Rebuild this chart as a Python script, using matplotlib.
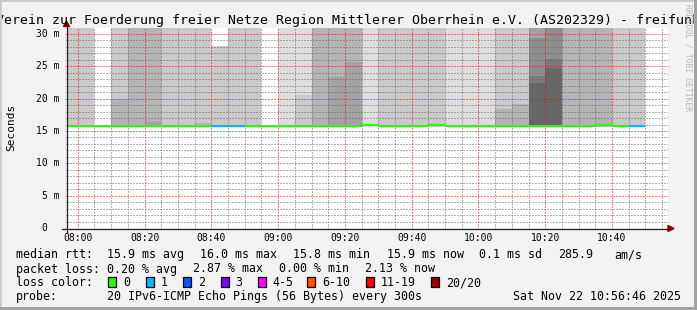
import matplotlib
matplotlib.use('Agg')
import matplotlib.pyplot as plt
from matplotlib.patches import Polygon, Rectangle
from matplotlib.lines import Line2D
from matplotlib.ticker import MultipleLocator, FuncFormatter
from matplotlib.transforms import offset_copy

plt.rcParams['font.family'] = ['DejaVu Sans Mono', 'DejaVu Sans']

# --- data ---
title = 'Verein zur Foerderung freier Netze Region Mittlerer Oberrhein e.V. (AS202329) - freifunk'
graph_start = '07:56:46'
graph_end = '10:56:46'

slot_start = ['07:55', '08:00', '08:05', '08:10', '08:15', '08:20', '08:25',
              '08:30', '08:35', '08:40', '08:45', '08:50', '08:55', '09:00',
              '09:05', '09:10', '09:15', '09:20', '09:25', '09:30', '09:35',
              '09:40', '09:45', '09:50', '09:55', '10:00', '10:05', '10:10',
              '10:15', '10:20', '10:25', '10:30', '10:35', '10:40', '10:45']
median_ms = [15.8, 15.8, 15.8, 15.8, 15.8, 15.8, 15.8,
             15.8, 15.8, 15.8, 15.8, 15.8, 15.8, 15.8,
             15.8, 15.8, 15.8, 15.8, 15.95, 15.8, 15.8,
             15.8, 15.95, 15.8, 15.8, 15.8, 15.8, 15.8,
             15.8, 15.8, 15.8, 15.8, 15.95, 15.8, 15.8]
lost_pings = [0, 0, 0, 0, 0, 0, 0,
              0, 0, 1, 1, 0, 0, 0,
              0, 0, 0, 0, 0, 0, 0,
              0, 0, 0, 0, 0, 0, 0,
              0, 0, 0, 0, 0, 0, 1]
# smoke per slot: (upper edge in ms, shade index) from top to bottom
smoke_low_ms = 15.6
smoke = [
    [(35, 2)], [(35, 2)], [], [(35, 2), (19.9, 3)], [(35, 3)],
    [(35, 3), (16.4, 4)], [(35, 2)], [(35, 2)], [(35, 2), (16.2, 3)], [(28.2, 2)],
    [(35, 2)], [(35, 2)], [], [(35, 1)], [(35, 1), (20.6, 2)],
    [(35, 3)], [(35, 3), (23.4, 4)], [(35, 3), (25.7, 4)], [(35, 1)], [(35, 2)],
    [(35, 2)], [(35, 2)], [(35, 2)], [(35, 1)], [(35, 1)],
    [(35, 1)], [(35, 2), (18.35, 3)], [(35, 2), (19.2, 3)],
    [(35, 4), (29.4, 5), (23.5, 6), (22.5, 7)], [(35, 5), (26.2, 6), (24.7, 7)],
    [(35, 3)], [(35, 3)], [(35, 3)], [(35, 2)], [(35, 2)],
]
shades = ['#ffffff', '#dddddd', '#c9c9c9', '#b4b4b4', '#a2a2a2',
          '#8e8e8e', '#7a7a7a', '#676767']

loss_labels = ['0', '1', '2', '3', '4-5', '6-10', '11-19', '20/20']
loss_colors = ['#26ff00', '#00b8ff', '#0059ff', '#7e00ff', '#ff00ff',
               '#ff5500', '#ff0000', '#a10000']
loss_upper = [0, 1, 2, 3, 5, 10, 19, 20]

rtt_stats = ['15.9 ms avg', '16.0 ms max', '15.8 ms min', '15.9 ms now',
             '0.1 ms sd', '285.9', 'am/s']
loss_stats = ['0.20 % avg', '2.87 % max', '0.00 % min', '2.13 % now']
probe_text = '20 IPv6-ICMP Echo Pings (56 Bytes) every 300s'
stamp_text = 'Sat Nov 22 10:56:46 2025'


def minutes(s):
    parts = [int(p) for p in s.split(':')]
    while len(parts) < 3:
        parts.append(0)
    return parts[0] * 60 + parts[1] + parts[2] / 60.0


def loss_color(n):
    for up, c in zip(loss_upper, loss_colors):
        if n <= up:
            return c
    return loss_colors[-1]


W, H = 697, 310


def fx(x):
    return x / W


def fy(y):
    return 1 - y / H


fig = plt.figure(figsize=(W / 100, H / 100), dpi=100, facecolor='#f2f2f2')
ax = fig.add_axes([fx(67), fy(228), (668 - 67) / W, 200 / H])
ax.set_facecolor('white')

slot = 5
for t, bands in zip(slot_start, smoke):
    t0 = minutes(t)
    for j, (upper, shade) in enumerate(bands):
        lower = bands[j + 1][0] if j + 1 < len(bands) else smoke_low_ms
        ax.bar(t0, upper - lower, bottom=lower, width=slot, align='edge',
               color=shades[shade], linewidth=0, antialiased=False, zorder=1)

for t, m, n in zip(slot_start, median_ms, lost_pings):
    t0 = minutes(t)
    ax.hlines(m, t0, t0 + slot, color=loss_color(n), lw=1.5, zorder=3)

ax.set_xlim(minutes(graph_start), minutes(graph_end))
ax.set_ylim(0, 30.93)

ax.xaxis.set_major_locator(MultipleLocator(20))
ax.xaxis.set_minor_locator(MultipleLocator(5))
ax.yaxis.set_major_locator(MultipleLocator(5))
ax.yaxis.set_minor_locator(MultipleLocator(1))
ax.xaxis.set_major_formatter(FuncFormatter(
    lambda v, p: '%02d:%02d' % (int(round(v)) // 60, int(round(v)) % 60)))

red = (1, 0, 0, 0.42)
gray = (0.4, 0.4, 0.4, 0.32)
ax.grid(which='major', color=red, linestyle=(0, (1, 2)), linewidth=0.72)
ax.grid(which='minor', color=gray, linestyle=(0, (1, 2)), linewidth=0.72)
ax.set_axisbelow(False)

ax.tick_params(which='both', direction='out', length=1.6, width=0.72)
ax.tick_params(which='major', color=red)
ax.tick_params(which='minor', color=gray)
ax.tick_params(axis='x', which='major', labelsize=7, pad=2.3, labelcolor='black')
ax.tick_params(axis='y', labelleft=False)
for s in ax.spines.values():
    s.set_visible(False)

for v in range(0, 31, 5):
    lab = '%d m' % v if v else '0'
    dx = -7 if v else -19.7
    ax.text(0, v, lab, transform=offset_copy(ax.get_yaxis_transform(), fig=fig, x=dx, units='dots'),
            ha='right', va='center', fontsize=7)

# axis lines and arrows
fig.add_artist(Line2D([fx(66.5), fx(66.5)], [fy(232), fy(25)], color='#222222', lw=0.9))
fig.add_artist(Line2D([fx(62), fx(669)], [fy(228.5), fy(228.5)], color='#222222', lw=0.9))
fig.add_artist(Polygon([(fx(63.5), fy(26.5)), (fx(69.5), fy(26.5)), (fx(66.5), fy(21))],
                       closed=True, color='#8b0000', transform=fig.transFigure))
fig.add_artist(Polygon([(fx(668), fy(225.5)), (fx(668), fy(231.5)), (fx(674), fy(228.5))],
                       closed=True, color='#8b0000', transform=fig.transFigure))

# texts
fig.text(0.5, fy(23.7), title, ha='center', va='baseline', fontsize=9.55)
fig.text(fx(11), fy(127), 'Seconds', rotation=90, ha='center', va='center', fontsize=8)
fig.text(fx(688), fy(58), 'RRDTOOL / TOBI OETIKER', rotation=-90, ha='center', va='center',
         fontsize=5.8, color='#b8b8b8')

fs = 8.4
row_y = [258.3, 272.5, 286.3, 300.3]
fig.text(fx(16), fy(row_y[0]), 'median rtt:', va='baseline', fontsize=fs)
for s, x in zip(rtt_stats, [107.3, 200.5, 293.3, 386.7, 479.3, 558.3, 614.3]):
    fig.text(fx(x), fy(row_y[0]), s, va='baseline', fontsize=fs)
fig.text(fx(16), fy(row_y[1]), 'packet loss:', va='baseline', fontsize=fs)
for s, x in zip(loss_stats, [107.3, 193.3, 279.3, 365.0]):
    fig.text(fx(x), fy(row_y[1]), s, va='baseline', fontsize=fs)
fig.text(fx(16), fy(row_y[2]), 'loss color:', va='baseline', fontsize=fs)
for lab, c, bx in zip(loss_labels, loss_colors, [108.3, 145.7, 183.3, 220.5, 257.5, 307.0, 366.0, 431.0]):
    fig.add_artist(Rectangle((fx(bx), fy(287)), 8 / W, 10 / H, facecolor=c, edgecolor='black',
                             lw=0.9, transform=fig.transFigure))
    fig.text(fx(bx + 15), fy(row_y[2]), lab, va='baseline', fontsize=fs)
fig.text(fx(16), fy(row_y[3]), 'probe:', va='baseline', fontsize=fs)
fig.text(fx(107.3), fy(row_y[3]), probe_text, va='baseline', fontsize=fs)
fig.text(fx(513.3), fy(row_y[3]), stamp_text, va='baseline', fontsize=fs)

# frame shading
for (x0, y0, w, h, c) in [(0, 0, W, 2, '#cbcbcb'), (0, 0, 2, H, '#cbcbcb'),
                          (0, H - 3, W, 3, '#a3a3a3'), (W - 3, 0, 3, H, '#a3a3a3')]:
    fig.add_artist(Rectangle((fx(x0), fy(y0 + h)), w / W, h / H, facecolor=c, lw=0,
                             transform=fig.transFigure, zorder=10))

fig.savefig('out.png', dpi=100, facecolor=fig.get_facecolor())
